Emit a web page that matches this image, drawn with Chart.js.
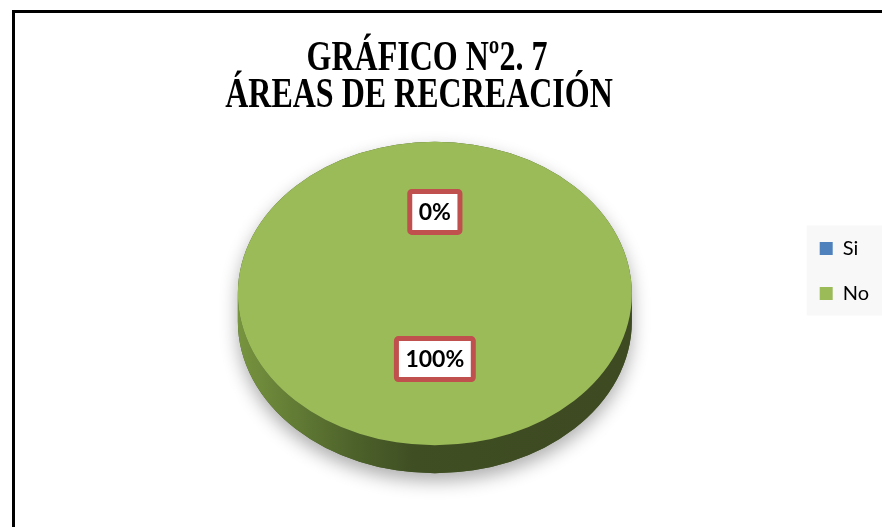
<!DOCTYPE html>
<html lang="es">
<head>
<meta charset="utf-8">
<title>Gráfico Nº2. 7 – Áreas de recreación</title>
<script src="https://cdn.jsdelivr.net/npm/chart.js@4.4.1/dist/chart.umd.min.js"></script>
<style>
  html, body { margin: 0; padding: 0; background: #fff; overflow: hidden; }
  #wrap { position: relative; width: 882px; height: 527px; overflow: hidden; }
  #frame { position: absolute; left: 12px; top: 10px; width: 900px; height: 600px; border: 3px solid #000; box-sizing: border-box; }
  #chart { position: absolute; left: 0; top: 0; }
  .title-line {
    position: absolute; width: 600px; margin-left: -300px; text-align: center;
    font-family: "Liberation Serif", "Times New Roman", serif; font-weight: bold;
    font-size: 32px; line-height: 32px; color: #000; white-space: nowrap;
    transform: scaleY(1.34); transform-origin: 50% 0;
  }
</style>
</head>
<body>
<div id="wrap">
  <div id="frame"></div>
  <canvas id="chart" width="882" height="527"></canvas>
  <div class="title-line" id="title1" style="left:427px; top:34px;"></div>
  <div class="title-line" id="title2" style="left:419px; top:71px;"></div>
</div>
<script>
const categories = ["Si", "No"];
const percentages = [0, 100];
const titleLines = ["GRÁFICO Nº2. 7", "ÁREAS DE RECREACIÓN"];

const sliceColors = ["#4f81bd", "#9bbb59"];
const TILT = 0.77;        // vertical squash of the pie top
const DEPTH = 28;         // thickness of the 3D side
const LABEL_RADIUS = 0.485;
const LABEL_LIFT = 8;
const LEGEND_DX = -3;
const LEGEND_DY = -22.5;

document.getElementById("title1").textContent = titleLines[0];
document.getElementById("title2").textContent = titleLines[1];

function sidePath(ctx, cx, cy, r, ry) {
  ctx.beginPath();
  ctx.moveTo(cx - r, cy);
  ctx.lineTo(cx - r, cy + DEPTH);
  ctx.ellipse(cx, cy + DEPTH, r, ry, 0, Math.PI, 0, true);
  ctx.lineTo(cx + r, cy);
  ctx.ellipse(cx, cy, r, ry, 0, 0, Math.PI, false);
  ctx.closePath();
}

const pie3d = {
  id: "pie3d",
  afterLayout(chart) {
    // the legend sits a bit above the pie centre in the original
    const lg = chart.legend;
    lg.left += LEGEND_DX; lg.right += LEGEND_DX;
    lg.top += LEGEND_DY; lg.bottom += LEGEND_DY;
  },
  beforeDraw(chart) {
    const hb = chart.legend.legendHitBoxes;
    if (!hb || !hb.length) return;
    const ctx = chart.ctx;
    const first = hb[0], last = hb[hb.length - 1];
    ctx.save();
    ctx.fillStyle = "#f8f8f8";
    ctx.fillRect(first.left - 13, first.top - 13, chart.width - first.left + 13,
      last.top + last.height + 12 - (first.top - 13));
    ctx.restore();
  },
  beforeDatasetsDraw(chart) {
    const arc = chart.getDatasetMeta(0).data[0];
    const cx = arc.x, cy = arc.y, r = arc.outerRadius, ry = r * TILT;
    const ctx = chart.ctx;

    // soft shadow under the whole disc
    ctx.save();
    ctx.shadowColor = "rgba(0,0,0,0.32)";
    ctx.shadowBlur = 18;
    ctx.shadowOffsetY = 8;
    ctx.fillStyle = "#45572a";
    ctx.beginPath();
    ctx.moveTo(cx - r, cy);
    ctx.ellipse(cx, cy, r, ry, 0, Math.PI, 2 * Math.PI, false);
    ctx.lineTo(cx + r, cy + DEPTH);
    ctx.ellipse(cx, cy + DEPTH, r, ry, 0, 0, Math.PI, false);
    ctx.closePath();
    ctx.fill();
    ctx.restore();

    // side band
    ctx.save();
    const g = ctx.createLinearGradient(cx - r, 0, cx + r, 0);
    g.addColorStop(0, "#77943f");
    g.addColorStop(0.3, "#4c612a");
    g.addColorStop(0.45, "#3f4e23");
    g.addColorStop(1, "#3e4a22");
    ctx.fillStyle = g;
    sidePath(ctx, cx, cy, r, ry);
    ctx.fill();
    ctx.restore();

    // squash the pie top into an ellipse
    ctx.save();
    ctx.translate(cx, cy);
    ctx.scale(1, TILT);
    ctx.translate(-cx, -cy);
  },
  afterDatasetsDraw(chart) {
    const ctx = chart.ctx;
    ctx.restore();

    const meta = chart.getDatasetMeta(0);
    meta.data.forEach((a, i) => {
      const mid = (a.startAngle + a.endAngle) / 2;
      const lx = a.x + Math.cos(mid) * a.outerRadius * LABEL_RADIUS;
      const ly = a.y - LABEL_LIFT + Math.sin(mid) * a.outerRadius * LABEL_RADIUS * TILT;
      const text = percentages[i] + "%";
      ctx.save();
      ctx.font = "bold 23px Lato";
      const w = ctx.measureText(text).width + 23;
      const h = 46;
      ctx.fillStyle = "#fff";
      ctx.strokeStyle = "#c0504d";
      ctx.lineWidth = 5;
      ctx.beginPath();
      ctx.roundRect(lx - w / 2 + 2.5, ly - h / 2 + 2.5, w - 5, h - 5, 2);
      ctx.fill();
      ctx.stroke();
      ctx.fillStyle = "#000";
      ctx.textAlign = "center";
      ctx.textBaseline = "middle";
      ctx.fillText(text, lx, ly + 1);
      ctx.restore();
    });
  }
};

new Chart(document.getElementById("chart"), {
  type: "pie",
  data: {
    labels: categories,
    datasets: [{
      data: percentages,
      backgroundColor: sliceColors,
      borderWidth: 0,
      hoverOffset: 0
    }]
  },
  options: {
    responsive: false,
    animation: false,
    events: [],
    layout: { padding: { left: 72, right: 0, top: 96.5, bottom: 36.5 } },
    plugins: {
      legend: {
        position: "right",
        labels: {
          boxWidth: 13,
          boxHeight: 13,
          padding: 25,
          color: "#000",
          font: { family: "Lato", size: 20 }
        }
      },
      tooltip: { enabled: false },
      title: { display: false }
    }
  },
  plugins: [pie3d]
});
</script>
</body>
</html>
